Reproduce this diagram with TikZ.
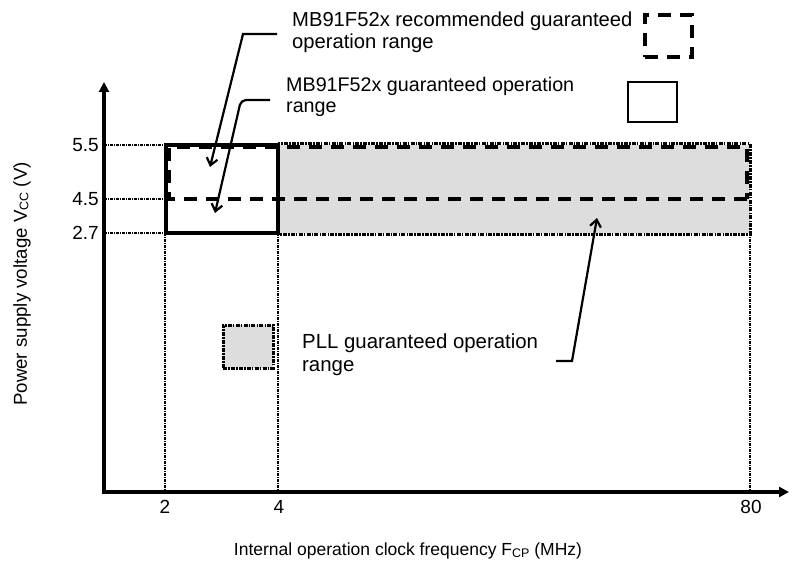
\documentclass[tikz,border=0pt]{standalone}
\usepackage{fontspec}
\setmainfont{Liberation Sans}
\usetikzlibrary{arrows.meta}
\definecolor{pllgray}{HTML}{DDDDDD}
\newcommand{\lowsub}[1]{\raisebox{-1.5pt}{\fontsize{12.5}{12.5}\selectfont #1}}
\begin{document}
\begin{tikzpicture}[x=1pt,y=-1pt,
  axis/.style={line width=3.2pt},
  guide/.style={line width=1.3pt, dash pattern=on 3pt off 1pt on 1pt off 1pt},
  solidbox/.style={line width=3.2pt},
  dashbox/.style={line width=3.8pt, dash pattern=on 13pt off 9pt},
  pllborder/.style={line width=3pt, dash pattern=on 4pt off 1.2pt on 1.5pt off 1.2pt},
  leader/.style={line width=2.2pt, -{Straight Barb[length=7pt,width=11pt,line width=2.2pt]}},
  lbl/.style={inner sep=0pt, font=\fontsize{19}{22}\selectfont},
  legtext/.style={inner sep=0pt, anchor=north west, align=left, font=\fontsize{20}{22}\selectfont}]
\useasboundingbox (0,0) rectangle (792,564);
% gray PLL area
\fill[pllgray] (278,145) rectangle (750,233);
% guides
\coordinate (g55) at (104,145); \coordinate (g45) at (104,199); \coordinate (g27) at (104,233);
\draw[guide] (g55) -- (166,145);
\draw[guide] (g45) -- (169,199);
\draw[guide] (g27) -- (166,233);
\coordinate (t2) at (165,492); \coordinate (t4) at (278,492); \coordinate (t80) at (750,492);
\draw[guide] (165,233) -- (t2);
\draw[guide] (278,233) -- (t4);
\draw[guide] (750,233) -- (t80);
% PLL border
\draw[pllborder] (278,144) rectangle (750,234);
% solid box
\draw[solidbox] (166,145) rectangle (278,233);
% dashed box
\draw[dashbox] (747,199) -- (169,199) -- (169,147) -- (747,147) -- cycle;
% axes
\coordinate (O) at (104,492);
\coordinate (ytop) at (104,82);
\coordinate (xend) at (789,492);
\draw[axis,{Triangle[length=10pt,width=10pt]}-{Triangle[length=10pt,width=10pt]}] (ytop) -- (O) -- (xend);
% tick labels
\node[lbl,anchor=east] (l55) at (99,145) {5.5};
\node[lbl,anchor=east] (l45) at (99,199) {4.5};
\node[lbl,anchor=east] (l27) at (99,233) {2.7};
\node[lbl] (x2) at (165,507) {2};
\node[lbl] (x4) at (279,507) {4};
\node[lbl] (x80) at (751,507) {80};
% axis titles
\node[inner sep=0pt,font=\fontsize{17.5}{20}\selectfont] (xtitle) at (408,551) {Internal operation clock frequency F\lowsub{CP} (MHz)};
\node[inner sep=0pt,font=\fontsize{18.7}{20}\selectfont,rotate=90] (ytitle) at (22,284) {Power supply voltage V\lowsub{CC} (V)};
% legend texts
\node[legtext,font=\fontsize{20.2}{22}\selectfont] (recT) at (292,12) {MB91F52x recommended guaranteed\\operation range};
\node[legtext,font=\fontsize{19.7}{21}\selectfont] (guaT) at (286,77) {MB91F52x guaranteed operation\\range};
\node[legtext,font=\fontsize{20.4}{23}\selectfont] (pllT) at (302,334) {PLL guaranteed operation\\range};
% legend symbols
\node[draw,dashbox,minimum width=47pt,minimum height=42pt,inner sep=0pt] (recS) at (668.5,36) {};
\node[draw,line width=2.8pt,minimum width=49pt,minimum height=40pt,inner sep=0pt] (guaS) at (652.5,102) {};
\node[draw,pllborder,fill=pllgray,minimum width=50pt,minimum height=43pt,inner sep=0pt] (pllS) at (248,346.5) {};
% leaders
\coordinate (r1) at (277,34); \coordinate (r2) at (243,34); \coordinate (r3) at (210,167);
\draw[leader] (r1) -- (r2) -- (r3);
\coordinate (s1) at (270,100); \coordinate (s2) at (241,100); \coordinate (s3) at (215,213);
\draw[leader,rounded corners=5pt] (s1) -- (s2) -- (s3);
\coordinate (p1) at (556,361); \coordinate (p2) at (572,361); \coordinate (p3) at (597,218);
\draw[leader] (p1) -- (p2) -- (p3);
\end{tikzpicture}
\end{document}
